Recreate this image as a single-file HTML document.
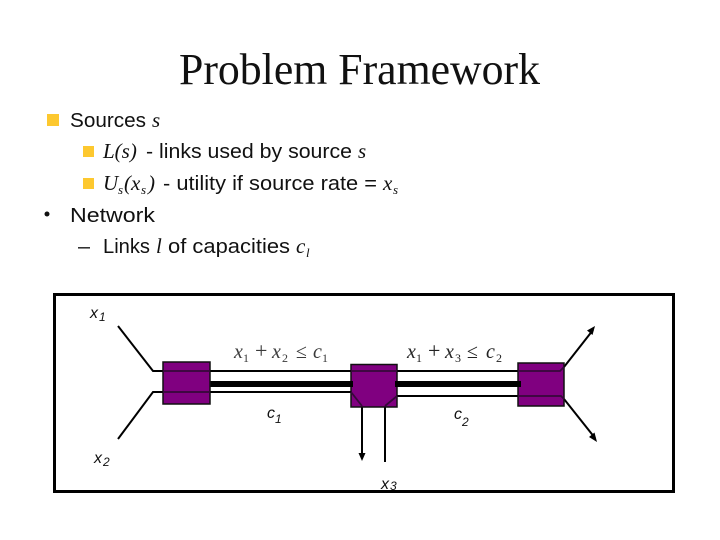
<!DOCTYPE html>
<html>
<head>
<meta charset="utf-8">
<style>
html,body{margin:0;padding:0;background:#fff;}
svg{display:block;}
.t{font-family:"Liberation Serif",serif;}
.s{font-family:"Liberation Sans",sans-serif;font-size:20px;fill:#111;}
.i{font-family:"Liberation Serif",serif;font-style:italic;font-size:21px;fill:#111;}
.sub{font-family:"Liberation Serif",serif;font-style:italic;font-size:13px;fill:#111;}
.d{font-family:"Liberation Sans",sans-serif;font-style:italic;font-size:16px;fill:#111;}
.ds{font-family:"Liberation Sans",sans-serif;font-style:italic;font-size:12px;fill:#111;}
.m{font-family:"Liberation Serif",serif;font-size:20px;fill:#3a3a3a;}
.mi{font-family:"Liberation Serif",serif;font-style:italic;font-size:20px;fill:#3a3a3a;}
.ms{font-family:"Liberation Serif",serif;font-size:12px;fill:#3a3a3a;}
</style>
</head>
<body>
<svg width="720" height="540" viewBox="0 0 720 540" xmlns="http://www.w3.org/2000/svg">
<rect width="720" height="540" fill="#fff"/>
<text class="t" x="179" y="84" font-size="44" fill="#111" textLength="361" lengthAdjust="spacingAndGlyphs">Problem Framework</text>

<rect x="47" y="114" width="12" height="12" fill="#fdc82f"/>
<text class="s" x="70" y="127" textLength="76" lengthAdjust="spacingAndGlyphs">Sources</text>
<text class="i" x="152" y="127">s</text>

<rect x="83" y="146" width="11" height="11" fill="#fdc82f"/>
<text class="i" x="103" y="158">L(s)</text>
<text class="s" x="146" y="158" textLength="206" lengthAdjust="spacingAndGlyphs">- links used by source</text>
<text class="i" x="358" y="158">s</text>

<rect x="83" y="178" width="11" height="11" fill="#fdc82f"/>
<text class="i" x="103" y="190">U</text>
<text class="sub" x="118" y="194">s</text>
<text class="i" x="124" y="190">(x</text>
<text class="sub" x="141" y="194">s</text>
<text class="i" x="148" y="190">)</text>
<text class="s" x="163" y="190" textLength="214" lengthAdjust="spacingAndGlyphs">- utility if source rate =</text>
<text class="i" x="383" y="190">x</text>
<text class="sub" x="393" y="194">s</text>

<circle cx="47" cy="214" r="2.5" fill="#111"/>
<text class="s" x="70" y="222" textLength="85" lengthAdjust="spacingAndGlyphs">Network</text>

<text class="s" x="78" y="253" textLength="12" lengthAdjust="spacingAndGlyphs">–</text>
<text class="s" x="103" y="253" textLength="47" lengthAdjust="spacingAndGlyphs">Links</text>
<text class="i" x="156" y="253">l</text>
<text class="s" x="168" y="253" textLength="122" lengthAdjust="spacingAndGlyphs">of capacities</text>
<text class="i" x="296" y="253">c</text>
<text class="sub" x="306" y="257">l</text>

<g stroke="#000" fill="none">
<line x1="210" y1="384" x2="352" y2="384" stroke-width="6"/>
<line x1="396" y1="384" x2="520" y2="384" stroke-width="6"/>
<g stroke-width="2">
<polyline points="118,326 153,371 351,371"/>
<line x1="397" y1="371" x2="518" y2="371"/>
<polyline points="118,439 153,392 351,392"/>
<line x1="397" y1="396" x2="518" y2="396"/>
<line x1="362" y1="407" x2="362" y2="458"/>
<line x1="385" y1="407" x2="385" y2="462"/>
<line x1="564" y1="367" x2="593" y2="330"/>
<line x1="564" y1="399" x2="595" y2="438"/>
</g>
</g>

<rect x="163" y="362" width="47" height="42" fill="#800080" stroke="#111" stroke-width="1.500"/>
<rect x="351" y="364.500" width="46" height="42.500" fill="#800080" stroke="#111" stroke-width="1.500"/>
<rect x="518" y="363" width="46" height="43" fill="#800080" stroke="#111" stroke-width="1.500"/>

<g stroke="#36083a" fill="none" stroke-width="1.800">
<line x1="163" y1="371" x2="210" y2="371"/>
<line x1="163" y1="392" x2="210" y2="392"/>
<line x1="351" y1="371" x2="397" y2="371"/>
<polyline points="351,392 362,406"/>
<polyline points="385,406 397,396"/>
<polyline points="518,371 560,371 564,367"/>
<polyline points="518,396 561,396 564,399"/>
</g>
<rect x="350" y="381" width="3" height="6" fill="#000"/>
<rect x="395" y="381" width="3" height="6" fill="#000"/>
<rect x="516" y="381" width="5" height="6" fill="#000"/>

<g fill="#000">
<polygon points="362,461 358.500,453 365.500,453"/>
<polygon points="595,326 592.500,335 587,330.500"/>
<polygon points="597,442 589,437 594.500,432.500"/>
</g>

<text class="d" x="90" y="318">x</text><text class="ds" x="99" y="321">1</text>
<text class="d" x="94" y="463">x</text><text class="ds" x="103" y="466">2</text>
<text class="d" x="267" y="418">c</text><text class="ds" x="275" y="423">1</text>
<text class="d" x="454" y="419">c</text><text class="ds" x="462" y="426">2</text>
<text class="d" x="381" y="489">x</text><text class="ds" x="390" y="490">3</text>

<text class="mi" x="234" y="358">x</text><text class="ms" x="243" y="362">1</text>
<text class="m" x="255" y="358" style="font-size:22px">+</text>
<text class="mi" x="272" y="358">x</text><text class="ms" x="282" y="362">2</text>
<text class="m" x="296" y="358">≤</text>
<text class="mi" x="313" y="358">c</text><text class="ms" x="322" y="362">1</text>

<text class="mi" x="407" y="358" style="fill:#222">x</text><text class="ms" x="416" y="362" style="fill:#222">1</text>
<text class="m" x="428" y="358" style="fill:#222;font-size:22px">+</text>
<text class="mi" x="445" y="358" style="fill:#222">x</text><text class="ms" x="455" y="362" style="fill:#222">3</text>
<text class="m" x="467" y="358" style="fill:#222">≤</text>
<text class="mi" x="486" y="358" style="fill:#222">c</text><text class="ms" x="496" y="362" style="fill:#222">2</text>

<rect x="54.500" y="294.500" width="619" height="197" fill="none" stroke="#000" stroke-width="3"/>
</svg>
</body>
</html>
